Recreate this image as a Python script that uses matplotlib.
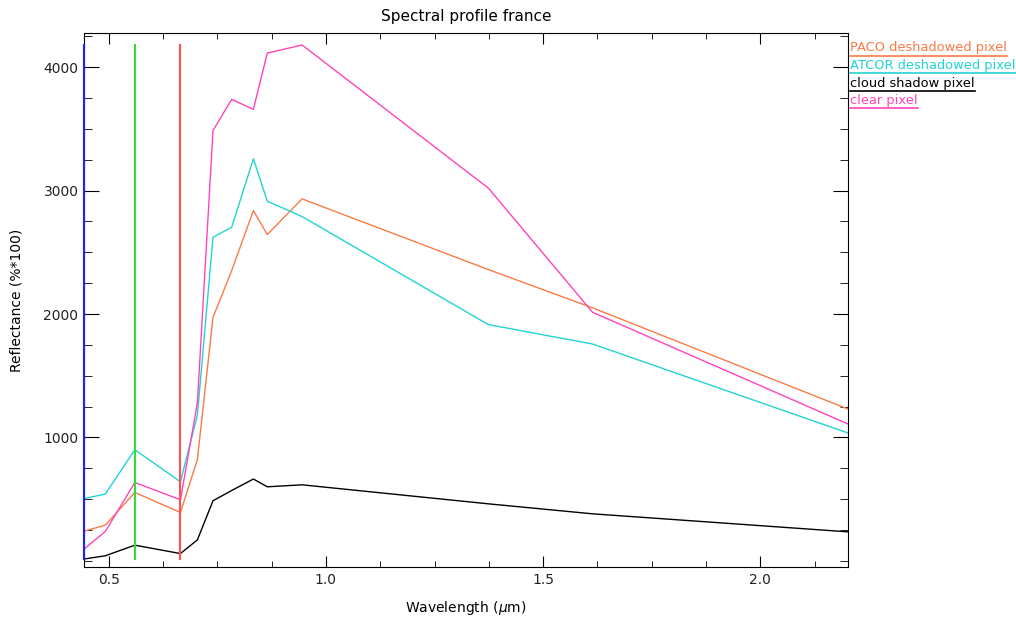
import matplotlib
matplotlib.use("Agg")
import matplotlib.pyplot as plt
from matplotlib.lines import Line2D
from matplotlib.ticker import MultipleLocator, FixedLocator

# Sentinel-2 band centres (um)
wavelength = [0.443, 0.492, 0.560, 0.665, 0.704, 0.740, 0.783, 0.833, 0.865, 0.945, 1.374, 1.614, 2.202]

paco = [240, 289, 554, 392, 820, 1973, 2352, 2838, 2644, 2933, 2360, 2050, 1230]
atcor = [505, 541, 900, 641, 1180, 2622, 2703, 3258, 2914, 2790, 1914, 1757, 1036]
shadow = [15, 41, 127, 59, 170, 487, 570, 663, 600, 616, 462, 381, 235]
clear = [95, 238, 635, 495, 1280, 3487, 3739, 3658, 4114, 4180, 3020, 2014, 1109]

band_marks = [0.443, 0.560, 0.665]
band_colors = ["#2020ff", "#33dd33", "#ff5050"]

names = ["PACO deshadowed pixel", "ATCOR deshadowed pixel", "cloud shadow pixel", "clear pixel"]
colors = ["#f97b45", "#22d3d3", "#000000", "#ff44bb"]

fig = plt.figure(figsize=(10.16, 6.18), dpi=100)
ax = fig.add_axes([0.0827, 0.0825, 0.7519, 0.8641])

series = [paco, atcor, shadow, clear]
for s, c in zip(series, colors):
    ax.plot(wavelength, s, color=c, lw=1.0)

lo = min(min(s) for s in series)
hi = max(max(s) for s in series)
for x, c in zip(band_marks, band_colors):
    ax.plot([x, x], [lo, hi], color=c, lw=1.5, clip_on=False, zorder=3)

ax.set_xlim(0.443, 2.202)
ax.set_ylim(-50, 4277)
ax.xaxis.set_major_locator(MultipleLocator(0.5))
ax.xaxis.set_minor_locator(MultipleLocator(0.125))
ax.yaxis.set_major_locator(FixedLocator([1000, 2000, 3000, 4000]))
ax.yaxis.set_minor_locator(MultipleLocator(250))
ax.xaxis.set_major_formatter(plt.FuncFormatter(lambda v, p: "%.1f" % v))

ax.tick_params(axis="both", which="both", direction="in", top=True, right=True,
               colors="black", labelsize=10, labelcolor="#222222")
ax.tick_params(axis="y", which="major", length=11, pad=4)
ax.tick_params(axis="y", which="minor", length=6)
ax.tick_params(axis="x", which="major", length=8, pad=4)
ax.tick_params(axis="x", which="minor", length=4.5)

ax.set_title("Spectral profile france", fontsize=11, pad=9)
ax.set_xlabel("Wavelength ($\\mu$m)", fontsize=10, labelpad=9)
ax.set_ylabel("Reflectance (%*100)", fontsize=10, labelpad=14)

# legend: coloured text with an underline, outside the plot on the right
texts = []
for i, (n, c) in enumerate(zip(names, colors)):
    t = fig.text(850 / 1016, 1 - (48 + i * 17.5) / 618, n, color=c,
                 fontsize=9.4, ha="left", va="center")
    texts.append(t)
fig.canvas.draw()
r = fig.canvas.get_renderer()
W, H = fig.bbox.width, fig.bbox.height
for t, c in zip(texts, colors):
    bb = t.get_window_extent(r)
    y = (bb.y0 - 1) / H
    fig.add_artist(Line2D([bb.x0 / W, bb.x1 / W], [y, y], color=c, lw=1.2,
                          transform=fig.transFigure))

fig.savefig("out.png", dpi=100)
